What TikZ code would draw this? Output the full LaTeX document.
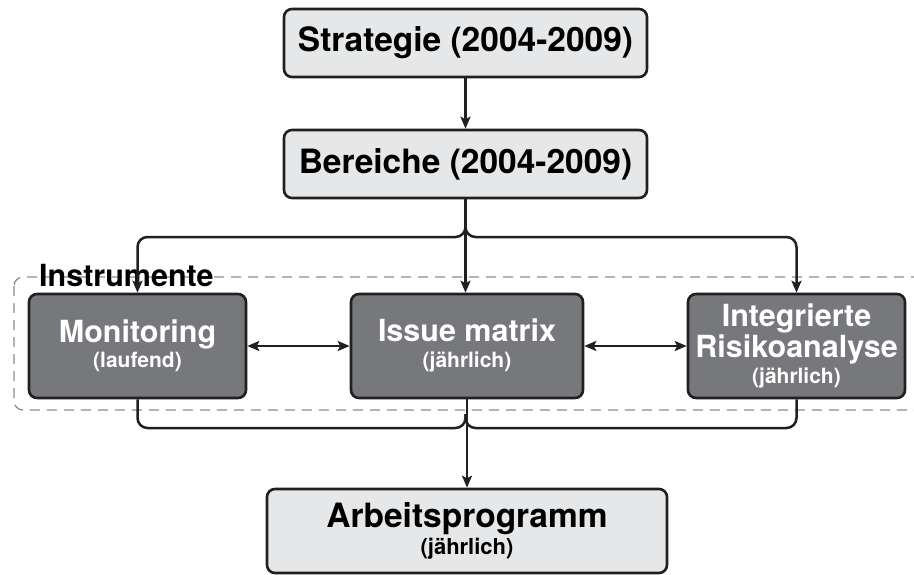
\documentclass[tikz,border=0pt]{standalone}
\usepackage{fontspec}
\setmainfont{TeX Gyre Heros}
\usetikzlibrary{arrows.meta}
\definecolor{lightbox}{HTML}{E6E7E8}
\definecolor{darkbox}{HTML}{77787B}
\definecolor{edge}{HTML}{231F20}
\definecolor{dashgray}{HTML}{8C8C8C}
\tikzset{
  lightnode/.style={draw=edge, line width=2.6pt, fill=lightbox, rounded corners=8pt, inner sep=0pt, align=center, text=black},
  darknode/.style={draw=edge, line width=2.6pt, fill=darkbox, rounded corners=8pt, inner sep=0pt, align=center, text=white},
  conn/.style={draw=edge, line width=2.5pt},
  arr/.style={conn, -{Stealth[length=12pt,width=10pt,inset=2.5pt]}},
  darr/.style={conn, {Stealth[length=12pt,width=10pt,inset=2.5pt]}-{Stealth[length=12pt,width=10pt,inset=2.5pt]}},
}
\newcommand{\bigtxt}{\fontsize{33.5}{36}\selectfont}
\newcommand{\midtxt}{\fontsize{30.5}{30}\selectfont}
\begin{document}
\begin{tikzpicture}[x=1pt,y=-1pt]
\useasboundingbox (0,0) rectangle (914,574);
% dashed group frame
\draw[dashgray, line width=1.3pt, dash pattern=on 10pt off 7pt, rounded corners=9pt] (14,277) rectangle (940,410);
\node[anchor=base west, font=\bfseries\fontsize{30.5}{30}\selectfont, inner sep=0pt] (instr) at (39,286) {Instrumente};

\node[lightnode, font=\bfseries\bigtxt, minimum width=363pt, minimum height=68pt] (strat) at (465.5,43) {Strategie (2004-2009)};
\node[lightnode, font=\bfseries\bigtxt, minimum width=363pt, minimum height=68pt] (ber) at (465.5,164) {Bereiche (2004-2009)};

\node[darknode, font=\bfseries\fontsize{21}{25}\selectfont, minimum width=217pt, minimum height=104pt] (mon) at (137.5,346) {{\midtxt Monitoring}\\(laufend)\\[-20pt]};
\node[darknode, font=\bfseries\fontsize{21}{26}\selectfont, minimum width=232pt, minimum height=104pt] (iss) at (467,346) {{\midtxt Issue matrix}\\(jährlich)\\[-21pt]};
\node[darknode, font=\bfseries\fontsize{30.5}{29}\selectfont, minimum width=217pt, minimum height=104pt] (integ) at (796.5,346) {Integrierte\\Risikoanalyse\\[-3pt]{\fontsize{21}{25}\selectfont (jährlich)}};

\node[lightnode, font=\bfseries\fontsize{22}{27}\selectfont, minimum width=400pt, minimum height=84pt] (arb) at (467,531) {{\bigtxt Arbeitsprogramm}\\(jährlich)};

\coordinate (top) at (465.5,237);
\coordinate (bot) at (465.5,428);

\draw[arr] (strat.south) -- (ber.north);
\draw[arr] (ber.south) -- (ber.south |- iss.north);
\draw[arr, rounded corners=10pt] (ber.south) -- (top) -- (top -| mon.north) -- (mon.north);
\draw[arr, rounded corners=10pt] (ber.south) -- (top) -- (top -| integ.north) -- (integ.north);

\draw[darr] (mon.east) -- (iss.west);
\draw[darr] (iss.east) -- (integ.west);

\draw[arr] (iss.south -| arb.north) -- (arb.north);
\draw[conn, rounded corners=10pt] (mon.south) -- (bot -| mon.south) -- (bot) -- ([yshift=14pt]bot);
\draw[conn, rounded corners=10pt] (integ.south) -- (bot -| integ.south) -- (bot) -- ([yshift=14pt]bot);
\end{tikzpicture}
\end{document}
